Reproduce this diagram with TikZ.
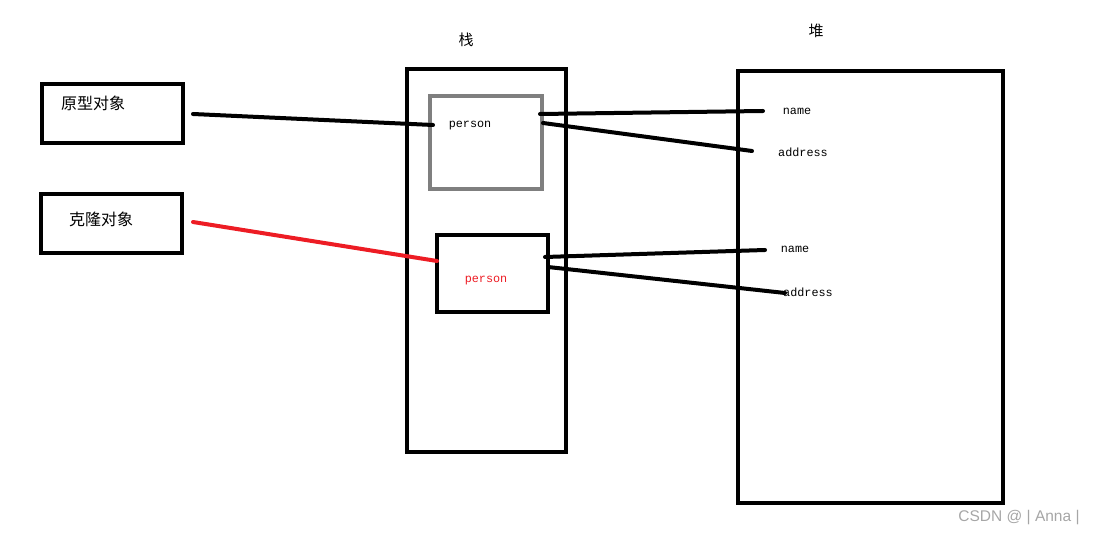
\documentclass[tikz,border=0pt]{standalone}
\usepackage{fontspec}
\usepackage{xcolor}
\usepackage{tikz}
\usetikzlibrary{positioning,calc}
\setmonofont{Liberation Mono}
\newfontfamily\cjkfont{Noto Sans CJK SC}
\newfontfamily\markfont{Liberation Sans}
\definecolor{CopyRed}{RGB}{237,28,36}
\definecolor{FrameGray}{RGB}{127,127,127}

\begin{document}
\begin{tikzpicture}[
  x=1pt, y=-1pt,
  objbox/.style={
    draw=black,
    line width=4pt,
    inner sep=0pt
  },
  cjk/.style={
    font=\cjkfont\fontsize{16}{19}\selectfont,
    inner sep=0pt
  },
  title/.style={
    font=\cjkfont\fontsize{15}{17}\selectfont,
    inner sep=0pt
  },
  field/.style={
    font=\ttfamily\fontsize{11.8}{14}\selectfont,
    inner sep=0pt
  },
  link/.style={line width=4pt, line cap=round}
]
\useasboundingbox (0,0) rectangle (1095,534);

% object boxes on the left
\draw[objbox] (42,84) rectangle (183,143);
\node[cjk] (proto) at (93,103) {原型对象};
\draw[objbox] (41,194) rectangle (182,253);
\node[cjk] (clone) at (101,219) {克隆对象};

% stack
\node[title] (stack) at (466,40) {栈};
\draw[objbox] (407,69) rectangle (566,452);
\draw[objbox, draw=FrameGray] (430,96) rectangle (542,189);
\node[field] (p1) at (470,126) {person};
\draw[objbox] (437,235) rectangle (548,312);
\node[field, text=CopyRed] (p2) at (486,281) {person};

% heap
\node[title] (heap) at (816,31) {堆};
\draw[objbox] (738,71) rectangle (1003,503);
\node[field] (n1) at (797,111) {name};
\node[field] (a1) at (803,152) {address};
\node[field] (n2) at (795,249) {name};
\node[field] (a2) at (808,292) {address};

% connector ends
\coordinate (protoR) at (193,114);
\coordinate (cloneR) at (193,222);
\coordinate (p1L) at (433,125);
\coordinate (p2L) at (437,261);
\coordinate (p1a) at (540,114);
\coordinate (p1b) at (543,123);
\coordinate (p2a) at (545,257);
\coordinate (p2b) at (548,267);
\coordinate (n1L) at (763,111);
\coordinate (a1L) at (752,151);
\coordinate (n2L) at (765,250);
\coordinate (a2L) at (785,293);

\draw[link] (protoR) -- (p1L);
\draw[link, draw=CopyRed] (cloneR) -- (p2L);
\draw[link] (p1a) -- (n1L);
\draw[link] (p1b) -- (a1L);
\draw[link] (p2a) -- (n2L);
\draw[link] (p2b) -- (a2L);

\node[font=\markfont\fontsize{15.5}{18}\selectfont, text=black!35, inner sep=0pt] (mark) at (1019,518) {CSDN @ | Anna |};
\end{tikzpicture}
\end{document}
